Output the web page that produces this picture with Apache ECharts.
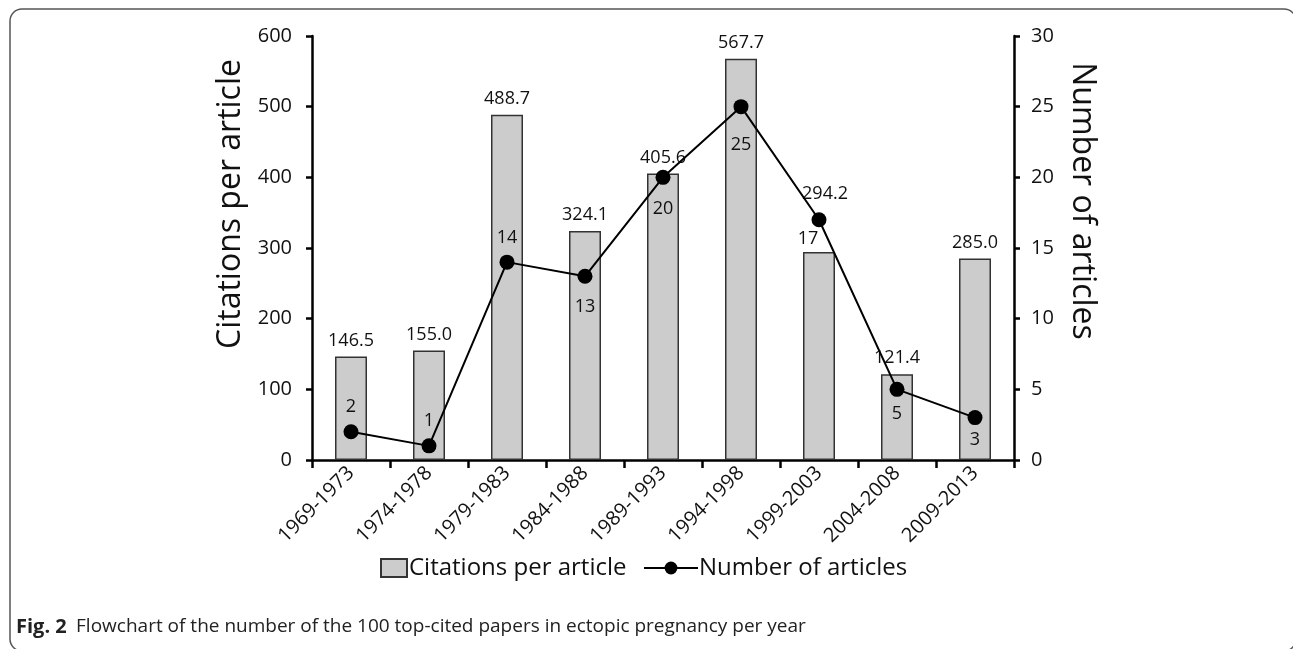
<!DOCTYPE html>
<html><head><meta charset="utf-8">
<script src="https://cdn.jsdelivr.net/npm/echarts@6/dist/echarts.min.js"></script>
<style>html,body{margin:0;padding:0;background:#fff}#c{width:1293px;height:649px}</style>
</head><body><div id="c"></div>
<script>
var categories = ['1969-1973','1974-1978','1979-1983','1984-1988','1989-1993','1994-1998','1999-2003','2004-2008','2009-2013'];
var citationsPerArticle = [146.5, 155.0, 488.7, 324.1, 405.6, 567.7, 294.2, 121.4, 285.0];
var numberOfArticles = [2, 1, 14, 13, 20, 25, 17, 5, 3];
var leftTicks = [0, 100, 200, 300, 400, 500, 600];
var rightTicks = [0, 5, 10, 15, 20, 25, 30];

var FONT = '"Open Sans", sans-serif';
var chart = echarts.init(document.getElementById('c'), null, {renderer: 'canvas'});

// label placement (style only)
var linePos = ['top','top','top','bottom','bottom','bottom','bottom','bottom','bottom'];
var lineOff = [[0,0],[0,0],[0,0],[0,6],[0,7],[0,14],[-11,-5],[0,0],[0,-2]];
var lineData = numberOfArticles.map(function(v, i){
  return {value: v, label: {position: linePos[i], offset: lineOff[i]}};
});
var barData = citationsPerArticle.map(function(v, i){
  return i === 6 ? {value: v, label: {offset: [6, -42]}} : {value: v};
});

chart.setOption({
  backgroundColor: '#fff',
  animation: false,
  textStyle: {fontFamily: FONT},
  title: {
    left: 11, top: 612,
    text: '{b|Fig. 2}  {n|Flowchart of the number of the 100 top-cited papers in ectopic pregnancy per year}',
    textStyle: {
      fontWeight: 'normal',
      rich: {
        b: {fontFamily: FONT, fontWeight: 'bold', fontSize: 20, color: '#222'},
        n: {fontFamily: FONT, fontWeight: 'normal', fontSize: 19, color: '#222'}
      }
    }
  },
  legend: [{
    data: [{name: 'Citations per article', icon: 'rect'}],
    left: 375, top: 551,
    itemWidth: 26, itemHeight: 18,
    textStyle: {fontFamily: FONT, fontSize: 24, color: '#111', padding: [0,0,0,-3]}
  },{
    data: ['Number of articles'],
    left: 638, top: 551,
    itemWidth: 54, itemHeight: 16,
    textStyle: {fontFamily: FONT, fontSize: 24, color: '#111', padding: [0,0,0,-4]}
  }],
  grid: {left: 312, right: 279, top: 36, bottom: 189, containLabel: false},
  xAxis: {
    type: 'category',
    data: categories,
    boundaryGap: true,
    axisLine: {lineStyle: {color: '#000', width: 2.5}},
    axisTick: {show: true, length: 8, lineStyle: {color: '#000', width: 2.5}},
    axisLabel: {rotate: 45, fontSize: 20, color: '#111', fontFamily: FONT, margin: 10, interval: 0}
  },
  yAxis: [{
    type: 'value',
    min: 0, max: 600, interval: 100,
    name: 'Citations per article',
    nameLocation: 'middle',
    nameGap: 64,
    nameRotate: 90,
    nameTextStyle: {fontSize: 32, color: '#111', fontFamily: FONT, padding: [0, 0, 0, 88]},
    axisLine: {show: true, lineStyle: {color: '#000', width: 2.5}},
    axisTick: {show: true, length: 6, lineStyle: {color: '#000', width: 2.5}},
    axisLabel: {fontSize: 20, color: '#111', fontFamily: FONT, margin: 20,
      formatter: function(v){ return leftTicks.indexOf(v) >= 0 ? String(v) : ''; }},
    splitLine: {show: false}
  },{
    type: 'value',
    position: 'right',
    min: 0, max: 30, interval: 5,
    name: 'Number of articles',
    nameLocation: 'middle',
    nameGap: 52,
    nameRotate: -90,
    nameTextStyle: {fontSize: 32, color: '#111', fontFamily: FONT, padding: [0, 94, 0, 0]},
    axisLine: {show: true, lineStyle: {color: '#000', width: 2.5}},
    axisTick: {show: true, length: 6, lineStyle: {color: '#000', width: 2.5}},
    axisLabel: {fontSize: 20, color: '#111', fontFamily: FONT, margin: 17,
      formatter: function(v){ return rightTicks.indexOf(v) >= 0 ? String(v) : ''; }},
    splitLine: {show: false}
  }],
  series: [{
    name: 'Citations per article',
    type: 'bar',
    yAxisIndex: 0,
    data: barData,
    barWidth: 32,
    itemStyle: {color: '#cccccc', borderColor: '#333', borderWidth: 1.5},
    label: {show: true, position: 'top', distance: 7, fontSize: 18, color: '#111', fontFamily: FONT,
      formatter: function(p){ return p.value.toFixed(1); }},
    z: 2
  },{
    name: 'Number of articles',
    type: 'line',
    yAxisIndex: 1,
    data: lineData,
    symbol: 'circle',
    symbolSize: 15,
    lineStyle: {color: '#000', width: 2},
    itemStyle: {color: '#000'},
    label: {show: true, distance: 8, fontSize: 18, color: '#111', fontFamily: FONT},
    z: 3
  }],
  graphic: [{
    type: 'rect',
    shape: {x: 10, y: 9, width: 1286, height: 642, r: 12},
    style: {fill: null, stroke: '#555', lineWidth: 1.5},
    silent: true,
    z: 0
  }]
});
</script></body></html>
